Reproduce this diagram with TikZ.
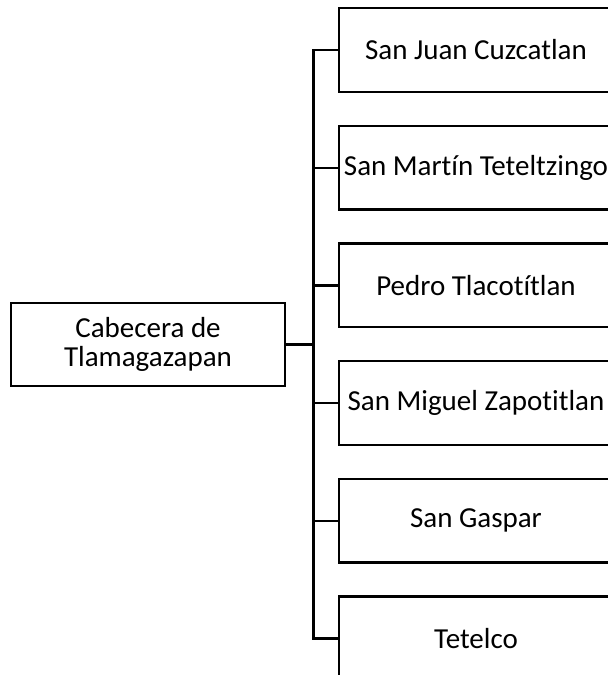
\documentclass[tikz,border=0pt]{standalone}
\usepackage{fontspec}
\setmainfont{Carlito}[Ligatures=NoCommon]

\begin{document}
\begin{tikzpicture}[
    x=1pt, y=-1pt,
    box/.style={draw, rectangle, line width=2.3pt, minimum width=274pt, minimum height=83.6pt, inner sep=2pt, align=center, font=\fontsize{29}{29}\selectfont},
    link/.style={line width=2.3pt}
]
    \clip (0,0) rectangle (608,675);

    \node[box] (root) at (148,344.5) {Cabecera de\\Tlamagazapan};

    \node[box] (juan) at (476,50) {San Juan Cuzcatlan};
    \node[box] (martin) at (476,167.7) {San Martín Teteltzingo};
    \node[box] (pedro) at (476,285.4) {Pedro Tlacotítlan};
    \node[box] (miguel) at (476,403) {San Miguel Zapotitlan};
    \node[box] (gaspar) at (476,520.7) {San Gaspar};
    \node[box] (tetelco) at (476,638.4) {Tetelco};

    \coordinate (trunk) at ([xshift=27.3pt]root.east);

    \draw[link] (root.east) -- (trunk);
    \draw[link] (trunk) |- (juan);
    \draw[link] (trunk) |- (martin);
    \draw[link] (trunk) |- (pedro);
    \draw[link] (trunk) |- (miguel);
    \draw[link] (trunk) |- (gaspar);
    \draw[link] (trunk) |- (tetelco);

\end{tikzpicture}
\end{document}
